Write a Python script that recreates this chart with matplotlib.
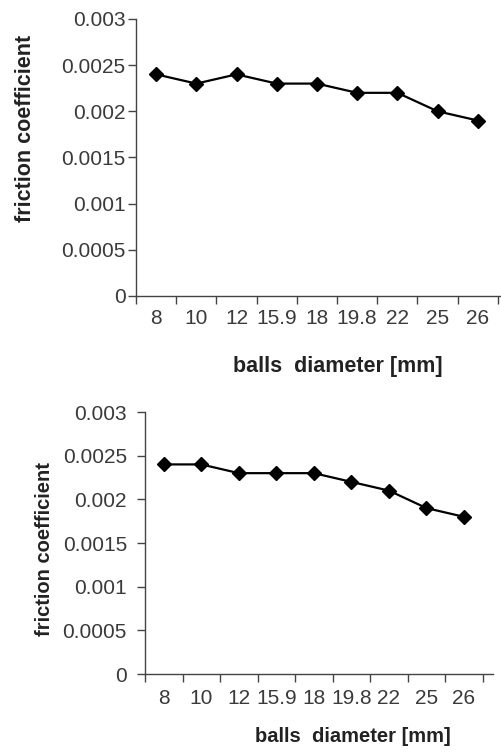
import matplotlib
matplotlib.use("Agg")
import matplotlib.pyplot as plt
import numpy as np

plt.rcParams["font.family"] = ["Liberation Sans", "DejaVu Sans"]

# ball diameters (categories) and measured friction coefficients
diameters = ["8", "10", "12", "15.9", "18", "19.8", "22", "25", "26"]
friction_top = [0.0024, 0.0023, 0.0024, 0.0023, 0.0023, 0.0022, 0.0022, 0.0020, 0.0019]
friction_bottom = [0.0024, 0.0024, 0.0023, 0.0023, 0.0023, 0.0022, 0.0021, 0.0019, 0.0018]

y_ticks = [0, 0.0005, 0.001, 0.0015, 0.002, 0.0025, 0.003]
y_labels = ["0", "0.0005", "0.001", "0.0015", "0.002", "0.0025", "0.003"]

fig = plt.figure(figsize=(5.02, 7.52), dpi=100)

# each panel: [axes rect, xlim right, ylabel coords, xlabel coords, label size, ytick pad, xtick pad]
panels = [
    (friction_top, [0.2709, 0.6064, 0.729, 0.3684], 8.6, (-0.303, 0.606), (0.552, -0.253), 15.5, 1.5, 9.5),
    (friction_bottom, [0.2888, 0.1037, 0.693, 0.3484], 8.77, (-0.29, 0.477), (0.599, -0.240), 14.5, 7, 10.5),
]

for values, rect, xr, ylc, xlc, lsize, ypad, xpad in panels:
    ax = fig.add_axes(rect)
    x = np.arange(len(diameters))
    ax.plot(x, values, color="black", linewidth=1.6, marker="D", markersize=7.5)

    ax.set_xlim(-0.5, xr)
    ax.set_ylim(0, 0.003)

    ax.set_xticks(x)
    ax.set_xticklabels(diameters)
    ax.set_xticks(np.arange(-0.5, len(diameters)), minor=True)
    ax.tick_params(axis="x", which="major", length=0, pad=xpad, labelsize=15, labelcolor="#3a3a3a")
    ax.tick_params(axis="x", which="minor", length=6, width=1, color="#444444")

    ax.set_yticks(y_ticks)
    ax.set_yticklabels(y_labels)
    ax.tick_params(axis="y", length=6, width=1, pad=ypad, labelsize=15, labelcolor="#3a3a3a", color="#444444")

    for s in ["top", "right"]:
        ax.spines[s].set_visible(False)
    for s in ["left", "bottom"]:
        ax.spines[s].set_color("#444444")
        ax.spines[s].set_linewidth(1)

    ax.set_ylabel("friction coefficient", fontsize=lsize, fontweight="bold", color="#222222", va="center")
    ax.yaxis.set_label_coords(*ylc)
    ax.set_xlabel("balls  diameter [mm]", fontsize=lsize, fontweight="bold", color="#222222", va="center")
    ax.xaxis.set_label_coords(*xlc)

fig.savefig("out.png", dpi=100, facecolor="white")
